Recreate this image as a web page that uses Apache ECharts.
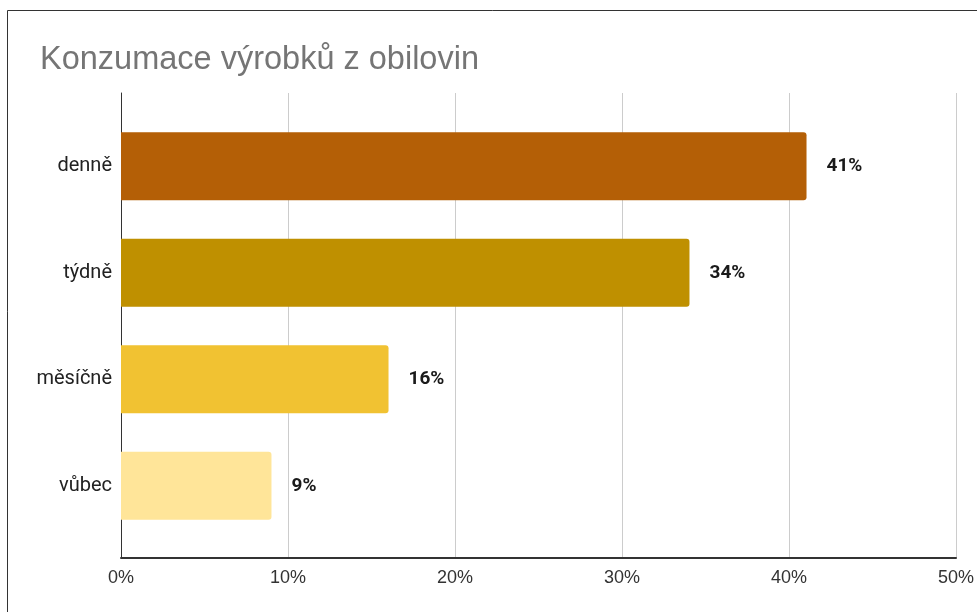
<!DOCTYPE html>
<html>
<head>
<meta charset="utf-8">
<script src="https://cdn.jsdelivr.net/npm/echarts@6/dist/echarts.min.js"></script>
<style>
  html, body { margin: 0; padding: 0; background: #fff; overflow: hidden; }
  #chart { width: 977px; height: 612px; }
</style>
</head>
<body>
<div id="chart"></div>
<script>
// Frequency categories (top to bottom) and their shares in percent
const categories = ['denně', 'týdně', 'měsíčně', 'vůbec'];
const shares = [41, 34, 16, 9];
const barColors = ['#b45f06', '#bf9000', '#f1c232', '#ffe599'];
const axisMax = 50;
const tickStep = 10;

const chart = echarts.init(document.getElementById('chart'), null, { renderer: 'canvas' });

const option = {
  animation: false,
  backgroundColor: '#ffffff',
  title: {
    text: 'Konzumace výrobků z obilovin',
    left: 35,
    top: 39,
    textStyle: { fontFamily: 'Arial, "Liberation Sans", sans-serif', fontSize: 32.5, fontWeight: 'normal', color: '#757575' }
  },
  graphic: [{
    type: 'rect',
    shape: { x: 7.5, y: 10.5, width: 1000, height: 700 },
    style: { fill: 'none', stroke: '#333', lineWidth: 1 },
    silent: true
  }],
  grid: [
    // frame grid: gridlines, value axis and axis lines
    { left: 121, right: 20, top: 93, bottom: 54 },
    // bar grid: category bands
    { left: 121, right: 20, top: 113, bottom: 73 }
  ],
  xAxis: [
    {
      gridIndex: 0, type: 'value', min: 0, max: axisMax, interval: tickStep,
      axisLine: { show: true, lineStyle: { color: '#333', width: 2 } },
      axisTick: { show: false },
      splitLine: { show: true, lineStyle: { color: '#cccccc', width: 1 } },
      axisLabel: {
        formatter: v => v + '%', color: '#333', fontSize: 18, margin: 11,
        fontFamily: '"Liberation Sans Narrow", "Arial Narrow", Arial, sans-serif'
      }
    },
    {
      gridIndex: 1, type: 'value', min: 0, max: axisMax, interval: tickStep,
      show: false
    }
  ],
  yAxis: [
    {
      gridIndex: 0, type: 'category', data: [''],
      axisLine: { show: true, lineStyle: { color: '#333', width: 1 } },
      axisTick: { show: false }, axisLabel: { show: false }, splitLine: { show: false }
    },
    {
      gridIndex: 1, type: 'category', data: categories, inverse: true,
      axisLine: { show: false }, axisTick: { show: false },
      axisLabel: { color: '#222', fontSize: 20, margin: 9, fontFamily: 'Roboto, sans-serif' }
    }
  ],
  series: [{
    type: 'bar',
    xAxisIndex: 1,
    yAxisIndex: 1,
    barWidth: 68,
    data: shares.map((v, i) => ({ value: v, itemStyle: { color: barColors[i] } })),
    itemStyle: { borderRadius: [0, 3, 3, 0] },
    label: {
      show: true, position: 'right', distance: 20,
      formatter: p => p.value + '%',
      color: '#1a1a1a', fontSize: 19, fontWeight: 'bold', fontFamily: 'Roboto, sans-serif'
    }
  }]
};

chart.setOption(option);
</script>
</body>
</html>
